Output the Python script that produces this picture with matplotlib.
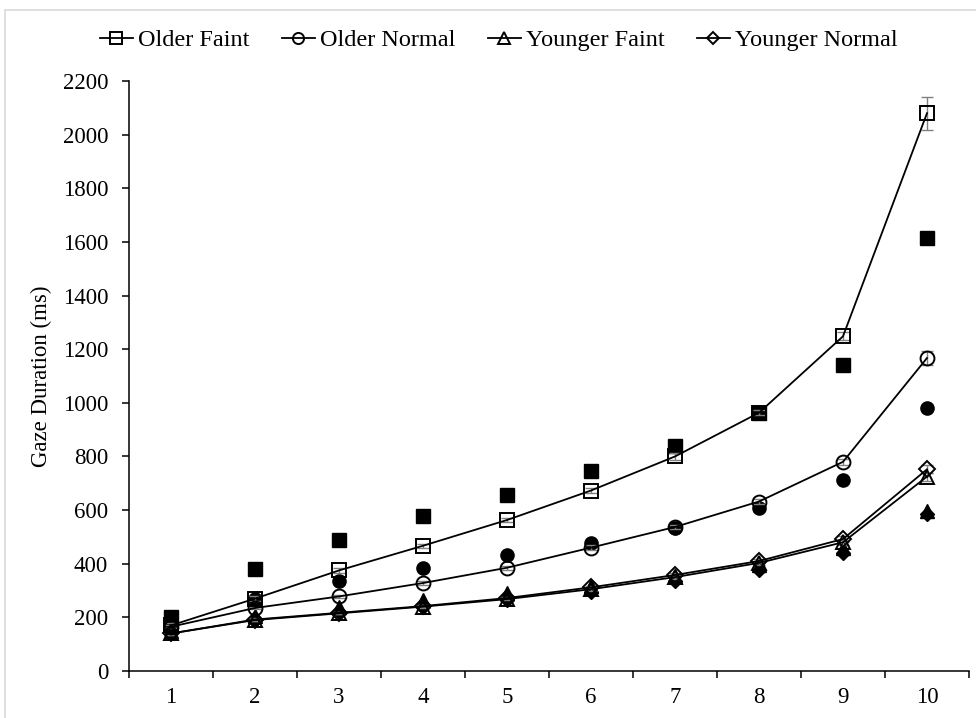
import matplotlib.pyplot as plt
from matplotlib.patches import Rectangle

plt.rcParams['font.family'] = ['Liberation Serif', 'DejaVu Serif']

x = [1, 2, 3, 4, 5, 6, 7, 8, 9, 10]

# observed (open markers, joined by lines)
older_faint = [170, 270, 375, 467, 563, 673, 800, 963, 1248, 2080]
older_normal = [165, 235, 278, 328, 385, 460, 537, 632, 780, 1167]
younger_faint = [140, 190, 215, 240, 268, 305, 350, 403, 480, 725]
younger_normal = [140, 192, 217, 242, 272, 312, 358, 410, 492, 752]

# standard errors
older_faint_err = [8, 8, 8, 8, 8, 10, 12, 10, 15, 62]
older_normal_err = [5, 5, 6, 6, 7, 8, 8, 10, 12, 25]
younger_faint_err = [4, 4, 4, 5, 5, 6, 6, 8, 10, 15]
younger_normal_err = [4, 4, 4, 5, 5, 6, 6, 8, 10, 15]

# predicted (filled markers, no lines)
older_faint_pred = [200, 382, 487, 578, 658, 745, 840, 963, 1140, 1615]
older_normal_pred = [155, 270, 337, 385, 432, 478, 535, 608, 712, 980]
younger_faint_pred = [150, 205, 240, 265, 290, 318, 355, 395, 460, 595]
younger_normal_pred = [145, 190, 220, 240, 265, 295, 335, 375, 440, 585]

labels = ['Older Faint', 'Older Normal', 'Younger Faint', 'Younger Normal']
markers = ['s', 'o', '^', 'D']
sizes = [10, 10, 10, 8]
obs = [older_faint, older_normal, younger_faint, younger_normal]
errs = [older_faint_err, older_normal_err, younger_faint_err, younger_normal_err]
preds = [older_faint_pred, older_normal_pred, younger_faint_pred, younger_normal_pred]

fig = plt.figure(figsize=(9.76, 7.18), dpi=100)
ax = fig.add_axes([129 / 976, 1 - 671 / 718, 840 / 976, 590 / 718])

# faint chart-area border
fig.patches.append(Rectangle((5 / 976, -0.1), 1.2, 1.1 - 10 / 718,
                             transform=fig.transFigure, fill=False,
                             edgecolor='#d9d9d9', linewidth=1.2))

for y, e, p, m, s, lab in zip(obs, errs, preds, markers, sizes, labels):
    ax.plot(x, p, linestyle='none', marker=m, markersize=s - 0.5,
            color='black', zorder=2)
    ax.errorbar(x, y, yerr=e, fmt='none', ecolor='#808080', elinewidth=1,
                capsize=4, zorder=3)
    ax.plot(x, y, color='black', linewidth=1.3, marker=m, markersize=s,
            markerfacecolor='none', markeredgecolor='black',
            markeredgewidth=1.4, label=lab, zorder=4)

ax.set_xlim(0.5, 10.5)
ax.set_ylim(0, 2200)
ax.set_yticks(range(0, 2201, 200))
ax.set_xticks([i + 0.5 for i in range(0, 11)])
ax.set_xticklabels([])
ax.set_xticks(x, minor=True)
ax.set_xticklabels([str(i) for i in x], minor=True)
ax.tick_params(axis='x', which='minor', length=0, pad=11.5, labelsize=16.5)
ax.tick_params(axis='x', which='major', length=5, width=1.1)
ax.tick_params(axis='y', length=5, width=1.1, labelsize=16.5, pad=10)
for sp in ['top', 'right']:
    ax.spines[sp].set_visible(False)
for sp in ['left', 'bottom']:
    ax.spines[sp].set_linewidth(1.1)

ax.set_ylabel('Gaze Duration (ms)', fontsize=16.5, labelpad=8)

fig.legend(loc='center left', bbox_to_anchor=(100 / 976, 1 - 40 / 718),
           bbox_transform=fig.transFigure, ncol=4, frameon=False,
           fontsize=17.5, handlelength=1.35, handletextpad=0.2,
           columnspacing=1.35, borderpad=0, borderaxespad=0, markerscale=0.8)

fig.savefig('out.png', dpi=100)
